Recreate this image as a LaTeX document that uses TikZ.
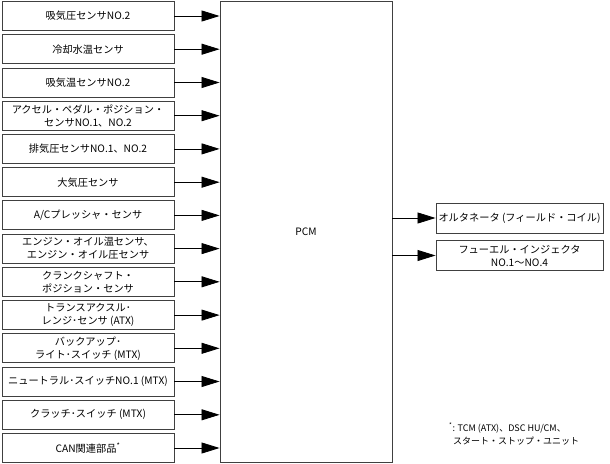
\documentclass[tikz,border=0pt]{standalone}
\usepackage{fontspec}
\setmainfont{Noto Sans CJK JP}
\usetikzlibrary{arrows.meta}
\tikzset{
  sensor/.style={draw=black!75, line width=0.9pt, minimum width=172pt, minimum height=29pt,
    inner sep=0pt, align=center, font=\fontsize{10.2}{13}\selectfont},
  output/.style={sensor, minimum width=167pt, minimum height=30pt},
  signal/.style={line width=0.8pt, -{Triangle[length=18pt,width=11pt]}}
}

\begin{document}
\begin{tikzpicture}[x=1pt,y=-1pt]
\useasboundingbox (0,0) rectangle (610,463);
%control module
\node [sensor, minimum width=172pt, minimum height=461pt] (pcm) at (306,231.5) {PCM};
%inputs
\node [sensor] (s1) at (88,16) {吸気圧センサNO.2};
\node [sensor] (s2) at (88,49.2) {冷却水温センサ};
\node [sensor] (s3) at (88,82.5) {吸気温センサNO.2};
\node [sensor] (s4) at (88,115.7) {アクセル・ペダル・ポジション・\\センサNO.1、NO.2};
\node [sensor] (s5) at (88,148.9) {排気圧センサNO.1、NO.2};
\node [sensor] (s6) at (88,182.2) {大気圧センサ};
\node [sensor] (s7) at (88,215.4) {A/Cプレッシャ・センサ};
\node [sensor] (s8) at (88,248.6) {エンジン・オイル温センサ、\\エンジン・オイル圧センサ};
\node [sensor] (s9) at (88,281.8) {クランクシャフト・\\ポジション・センサ};
\node [sensor] (s10) at (88,315.1) {トランスアクスル･\\レンジ･センサ (ATX)};
\node [sensor] (s11) at (88,348.3) {バックアップ･\\ライト･スイッチ (MTX)};
\node [sensor] (s12) at (88,381.5) {ニュートラル･スイッチNO.1 (MTX)};
\node [sensor] (s13) at (88,414.8) {クラッチ･スイッチ (MTX)};
\node [sensor] (s14) at (88,448) {CAN関連部品\textsuperscript{*}};
%
\draw [signal] (s1.east) -- (s1.east -| pcm.west);
\draw [signal] (s2.east) -- (s2.east -| pcm.west);
\draw [signal] (s3.east) -- (s3.east -| pcm.west);
\draw [signal] (s4.east) -- (s4.east -| pcm.west);
\draw [signal] (s5.east) -- (s5.east -| pcm.west);
\draw [signal] (s6.east) -- (s6.east -| pcm.west);
\draw [signal] (s7.east) -- (s7.east -| pcm.west);
\draw [signal] (s8.east) -- (s8.east -| pcm.west);
\draw [signal] (s9.east) -- (s9.east -| pcm.west);
\draw [signal] (s10.east) -- (s10.east -| pcm.west);
\draw [signal] (s11.east) -- (s11.east -| pcm.west);
\draw [signal] (s12.east) -- (s12.east -| pcm.west);
\draw [signal] (s13.east) -- (s13.east -| pcm.west);
\draw [signal] (s14.east) -- (s14.east -| pcm.west);
%outputs
\node [output] (alt) at (519.5,218) {オルタネータ (フィールド・コイル)};
\node [output] (inj) at (519.5,255.5) {フューエル・インジェクタ\\NO.1～NO.4};
\draw [signal] (alt.west -| pcm.east) -- (alt.west);
\draw [signal] (inj.west -| pcm.east) -- (inj.west);
%footnote
\node [anchor=west, align=left, inner sep=0pt, font=\fontsize{9}{13}\selectfont] (note) at (449,434)
  {\textsuperscript{*}: TCM (ATX)、DSC HU/CM、\\\hspace{4pt}スタート・ストップ・ユニット};
\end{tikzpicture}
\end{document}
